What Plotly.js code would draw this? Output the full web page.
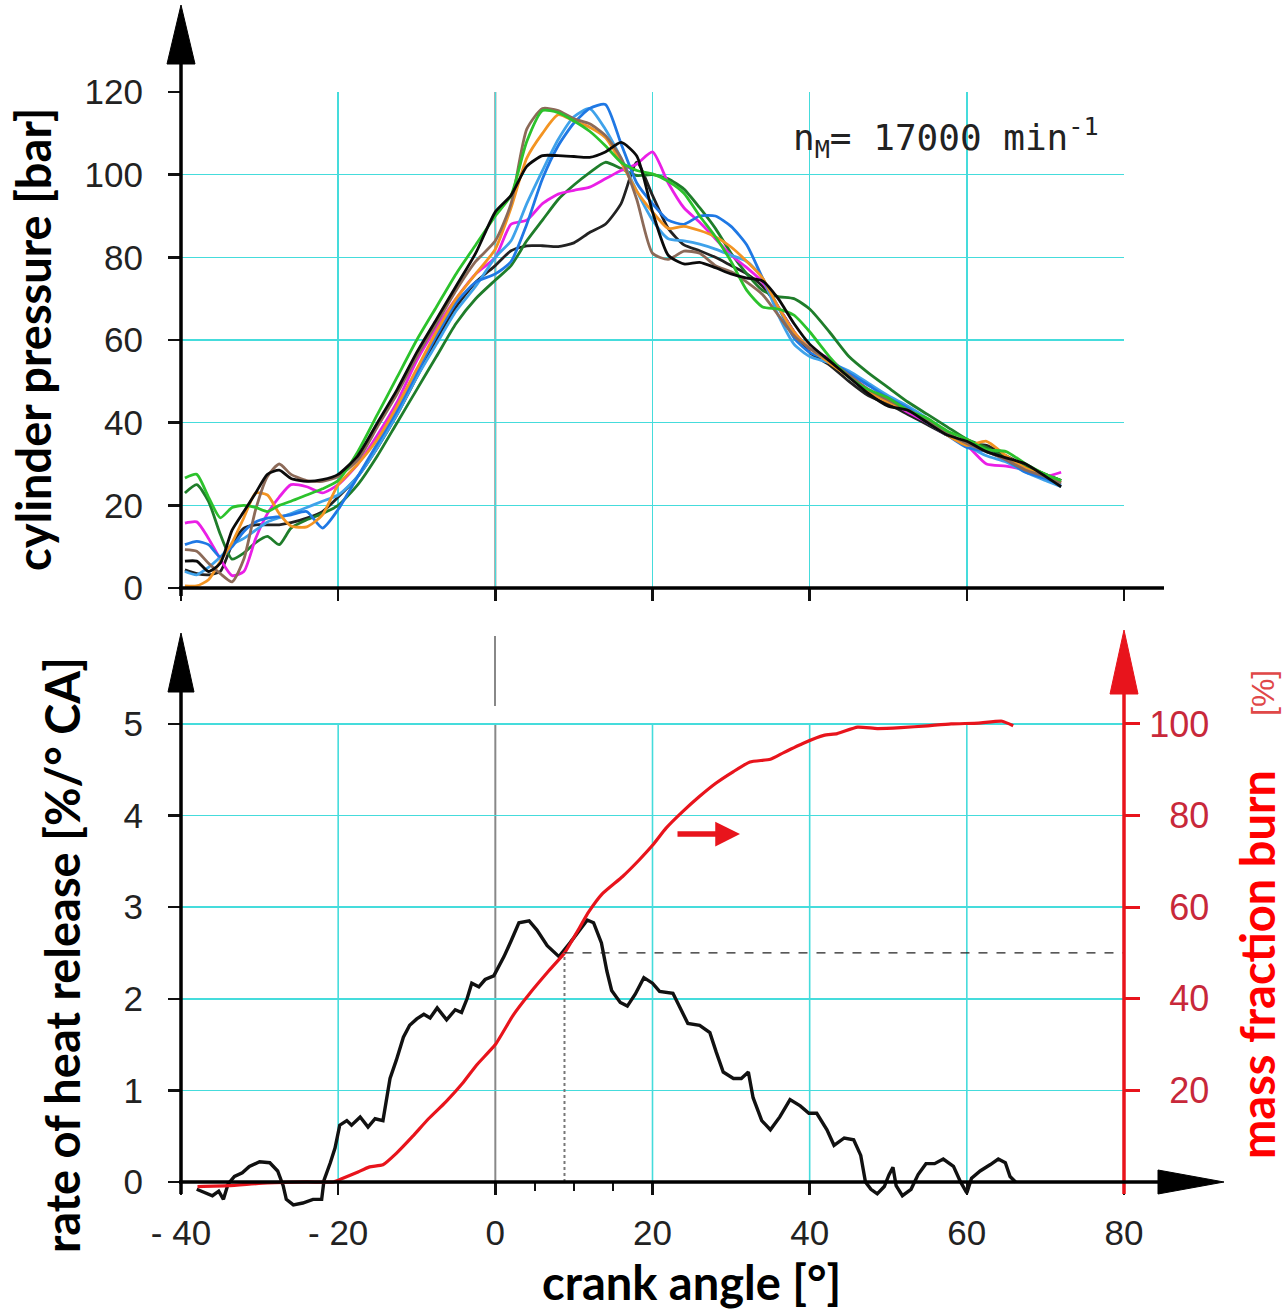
<!DOCTYPE html>
<html>
<head>
<meta charset="utf-8">
<script src="https://cdn.plot.ly/plotly-3.0.1.min.js"></script>
<style>html,body{margin:0;padding:0;background:#fff;}#chart{width:1286px;height:1311px;}</style>
</head>
<body>
<div id="chart"></div>
<script>
// ---------------- DATA ----------------
const crankAngle = [-39.5,-38,-36.5,-35,-33.5,-32,-30.5,-29,-27.5,-26,-24,-22,-20,-17.5,-15,-12.5,-10,-7.5,-5,-2.5,0,2,4,6,8,10,12,14,16,18,20,22,24,26,28,30,32,34,36,38,40,42.5,45,47.5,50,52.5,55,57.5,60,62.5,65,67.5,70,72];

const pressBlack1  = [6.5,6.5,4,6,14,18.5,23,27.5,28.5,26.5,25.8,26.2,27.5,32,40,48,57,65,73,81,91,95,102,104.6,104.6,104.4,104.2,105.5,107.8,104.5,91,80.5,78.4,78.8,77.5,76,75,74.3,70,64,59,55,51,47,44,43,40,37,35.5,33,31.5,30,27,24.5];
const pressBlack2  = [4.4,3.5,3.2,4,10.5,14.5,15.3,15.3,15.3,15.8,16.9,18.5,22,27,34,42,51,60,68,74,78,81.6,82.8,82.8,82.6,83.5,86,88,93,103,95,87,83,81.6,80,78,76,73,68,62,57,54,50,46.5,44.5,42,39.5,37,35,34.5,32,29.5,27.5,26];
const pressBrown   = [9.3,8.9,6,3.5,1.5,7,19,27,30,27.5,26,25.8,27,31,39,47,56,64,72,79,84,93,111,116,115.5,113.5,112.3,109.5,104,94,81,79.5,81.5,81,78,76.5,74,71,66,61,58,55,51.5,48,45.5,43,40.5,37.5,35,33,31,28.5,27,25.5];
const pressGreen   = [26.6,27.5,22,17,19.5,20,19.5,18.5,20,21,22.5,24,26,33,42,51,60,68,76,83,90,95,108,115.5,115,113,110.5,107,103,101,100.2,98.4,95.5,90,85,79,72,68,67.5,66,62,56,51,48,46,43,41,38,36,33.5,33,30,27.5,26];
const pressDkGreen = [23,25,21,13,7,8.5,11,12.5,10.5,14.5,16.5,18,20,25,32,40,48,56,64,70,74.5,78,84,89,94,97.5,100.5,103,101.5,99.8,100,99,96.5,92,87,81,76,72,70.5,70,67.5,62,56,52,48.5,45,42,39,36,34,31.5,29.5,27.5,26];
const pressBlue1   = [10.5,11.3,10.5,7.5,10,13.7,16,16.9,17.3,17.7,18.5,14.5,19,27,35,43,52,61,69,74,76,79,88,99,107,112.5,116,117,107.5,98,93,89,88,90,90,87.5,83,75,68,60.5,57,55,52,49,46,43.5,40,37,34,33,31,28,26.5,25];
const pressBlue2   = [4,3.2,5,7.5,10.5,12,14,16,17,18,19.5,21,22.5,27,34,42,51,59,67,73,80,84,93,101,108.5,114,116,111,104,96,89,84.5,84,83.2,82,80.5,79,75,66,59,56,54.5,52.5,49.5,46.5,44,41,37.5,34.5,32,30.5,28,26,24.5];
const pressMagenta = [15.7,16,12,7,3,4,12,18,22,25,24.5,23,25,30,37,45,55,63,70,76,80,88,89,93,95.3,96.2,97,99,101,102.6,105.5,98,92,88.5,84.5,80.5,77.5,74,68,62,58,55.5,51.5,48,45.5,42.5,40,37,34.5,30,29.5,28.5,27,28];
const pressOrange  = [0.5,0.5,2,6.5,11,17,23,22.5,18,15,14.8,17.7,25,30,36,44,53,62,70,76,82,92,104,110,114.5,113,111.5,109,103,96,91,87,87.5,86.5,85,82.5,79,75,68,62,58,54.5,51,47.5,45,43,40.5,37,34.5,35.5,32,29,27,25.5];

const hrAngle = [-38,-37,-36,-35.2,-34.6,-34,-33.2,-32.2,-31.3,-30,-28.7,-27.7,-27,-26.6,-25.7,-24.5,-23.2,-22.1,-21.8,-21,-20.4,-19.8,-18.9,-18.3,-17.2,-16.2,-15.3,-14.3,-13.4,-12.6,-11.7,-10.9,-10,-9.1,-8.3,-7.4,-6.2,-5.1,-4.3,-3.6,-3.0,-2.1,-1.3,-0.2,1.1,2.0,3.0,4.3,5.3,6.6,8.1,9.5,10.8,11.7,12.5,13.5,14.2,14.8,15.9,16.8,17.8,18.9,20,20.9,22.6,23.6,24.5,26,27.3,28.1,29,30.3,31.3,32.2,32.8,33.9,35,36.2,37.5,38.8,39.9,40.9,42.2,43.1,44.4,45.6,46.5,47.1,47.8,48.6,49.5,50.1,50.6,51,51.8,52.9,53.8,54.8,55.9,57,58.3,59.2,60,60.6,61.7,63,64,64.9,65.5,66.2];
const hrValue = [-0.08,-0.12,-0.15,-0.1,-0.19,-0.02,0.06,0.1,0.17,0.22,0.21,0.12,-0.04,-0.19,-0.25,-0.23,-0.19,-0.19,0.02,0.21,0.37,0.62,0.67,0.62,0.71,0.6,0.69,0.67,1.13,1.33,1.58,1.71,1.78,1.83,1.79,1.9,1.77,1.88,1.85,2.0,2.17,2.13,2.21,2.25,2.46,2.63,2.83,2.85,2.75,2.58,2.46,2.61,2.76,2.86,2.83,2.61,2.3,2.09,1.96,1.92,2.05,2.23,2.17,2.08,2.06,1.88,1.73,1.71,1.63,1.42,1.2,1.13,1.13,1.2,0.92,0.67,0.57,0.71,0.9,0.83,0.75,0.75,0.57,0.4,0.48,0.46,0.29,0,-0.08,-0.13,-0.05,0.08,0.16,-0.04,-0.15,-0.08,0.08,0.2,0.2,0.25,0.17,0,-0.12,0.04,0.12,0.19,0.25,0.21,0.06,0];

const mfbAngle = [-37.9,-34,-29,-24,-20.6,-19.4,-17.7,-16,-14.3,-12.6,-10.5,-8.5,-6.3,-4.2,-2.4,0,2.3,4.3,6.75,8.8,10.3,11.9,13.6,16.2,18.3,20,21.7,23.8,26,28.1,30.3,32.4,35,36.7,39.2,41.8,43.5,46.1,48.6,51.6,55,58,61.5,64.5,65.9];
const mfbValue = [-1,-0.8,-0.2,0,0,0.8,2,3.3,3.75,6.25,10,13.8,17.5,21.5,25.5,30,36.5,41,46,50,54.3,59,62.9,66.7,70.3,73.5,77.2,80.8,84.2,87.1,89.6,91.7,92.3,93.75,95.8,97.5,97.9,99.3,99,99.2,99.6,100,100.2,100.6,99.6];

const mfb50Angle = 8.8;
const mfb50Level = 50;

const xTicks = [-40,-20,0,20,40,60,80];
const xTickText = ['- 40','- 20','0','20','40','60','80'];
const xGridBottom = [-20,20,40,60];
const xMinorTicks = [5,10,15];
const pressTicks = [0,20,40,60,80,100,120];
const hrTicks = [0,1,2,3,4,5];
const mfbTicks = [20,40,60,80,100];
const NB = '\u00a0';
const mfbTickText = [NB+NB+'20',NB+NB+'40',NB+NB+'60',NB+NB+'80','100'];

// ---------------- STYLE ----------------
const W = 1286, H = 1311;
const px = x => x / W;
const py = y => (H - y) / H;
const CYAN = '#45dcdc';
const RED = '#e8141c';
const TICKFONT = {family: 'Liberation Sans, Arial, sans-serif', size: 35, color: '#222'};
const TITLEFONT = {family: 'Lato, Open Sans, sans-serif', size: 47, color: '#000', weight: 'bold'};

const pressSeries = [
  {y: pressBlack2, c: '#222222'},
  {y: pressDkGreen, c: '#1f7d2a'},
  {y: pressMagenta, c: '#ea1fe6'},
  {y: pressBlue2, c: '#3fa2ea'},
  {y: pressBlue1, c: '#1f78e4'},
  {y: pressOrange, c: '#f39422'},
  {y: pressBrown, c: '#8c6a58'},
  {y: pressGreen, c: '#2cc22c'},
  {y: pressBlack1, c: '#0a0a0a'}
];

const traces = pressSeries.map(s => ({
  x: crankAngle, y: s.y, xaxis: 'x', yaxis: 'y', mode: 'lines',
  line: {color: s.c, width: 2.8, shape: 'spline', smoothing: 0.6},
  hoverinfo: 'skip'
}));
traces.push({x: hrAngle, y: hrValue, xaxis: 'x2', yaxis: 'y2', mode: 'lines',
  line: {color: '#111', width: 3.4}, hoverinfo: 'skip'});
traces.push({x: mfbAngle, y: mfbValue, xaxis: 'x2', yaxis: 'y3', mode: 'lines',
  line: {color: RED, width: 3.2, shape: 'spline', smoothing: 0.5}, hoverinfo: 'skip'});

const axisLine = (x0, y0, x1, y1, c, w) => ({type: 'line', xref: 'paper', yref: 'paper',
  x0: px(x0), y0: py(y0), x1: px(x1), y1: py(y1), line: {color: c, width: w}, layer: 'above'});
const tri = (pts, c) => ({type: 'path', xref: 'paper', yref: 'paper', layer: 'above',
  path: 'M ' + pts.map(p => px(p[0]) + ',' + py(p[1])).join(' L ') + ' Z',
  fillcolor: c, line: {color: c, width: 1}});

const shapes = [
  // vertical grid lines of the lower panel (stop at the 5 line)
  ...xGridBottom.map(v => ({type: 'line', xref: 'x2', yref: 'y2', x0: v, x1: v, y0: 0, y1: 5,
    line: {color: CYAN, width: 1.6}, layer: 'below'})),
  // zero crank-angle reference lines (gray)
  {type: 'line', xref: 'x', yref: 'y', x0: 0, x1: 0, y0: 0, y1: 120, line: {color: '#888', width: 2}, layer: 'below'},
  {type: 'line', xref: 'x2', yref: 'y2', x0: 0, x1: 0, y0: 0, y1: 5, line: {color: '#888', width: 2}, layer: 'below'},
  {type: 'line', xref: 'paper', yref: 'paper', x0: px(495), x1: px(495), y0: py(706), y1: py(636), line: {color: '#888', width: 2}, layer: 'above'},
  // 50 % burn markers
  {type: 'line', xref: 'x2', yref: 'y3', x0: mfb50Angle, x1: 80, y0: mfb50Level, y1: mfb50Level, line: {color: '#222', width: 1.3, dash: 'dash'}, layer: 'above'},
  {type: 'line', xref: 'x2', yref: 'y3', x0: mfb50Angle, x1: mfb50Angle, y0: 0, y1: mfb50Level, line: {color: '#777', width: 2, dash: 'dot'}, layer: 'above'},
  // axes lines
  axisLine(181, 596, 181, 60, '#000', 3.5),
  axisLine(179, 588, 1164, 588, '#000', 3.5),
  tri([[167, 64], [181, 5], [195, 64]], '#000'),
  axisLine(181, 1194, 181, 688, '#000', 3.5),
  tri([[168, 692], [181, 633], [194, 692]], '#000'),
  axisLine(1124, 1194, 1124, 690, RED, 3.5),
  tri([[1110, 694], [1124, 630], [1138, 694]], RED),
  axisLine(179, 1182, 1162, 1182, '#000', 3.5),
  tri([[1158, 1170], [1224, 1182], [1158, 1194]], '#000')
];

const annotations = [
  {xref: 'paper', yref: 'paper', x: px(33), y: py(340), text: 'cylinder pressure [bar]', textangle: -90,
   showarrow: false, xanchor: 'center', yanchor: 'middle', font: TITLEFONT},
  {xref: 'paper', yref: 'paper', x: px(62), y: py(955), text: 'rate of heat release [%/° CA]', textangle: -90,
   showarrow: false, xanchor: 'center', yanchor: 'middle', font: TITLEFONT},
  {xref: 'paper', yref: 'paper', x: px(691), y: py(1282), text: 'crank angle [°]',
   showarrow: false, xanchor: 'center', yanchor: 'middle', font: TITLEFONT},
  {xref: 'paper', yref: 'paper', x: px(1257), y: py(965), text: 'mass fraction burn', textangle: -90,
   showarrow: false, xanchor: 'center', yanchor: 'middle', font: Object.assign({}, TITLEFONT, {color: '#ff0000'})},
  {xref: 'paper', yref: 'paper', x: px(1263), y: py(693), text: '[%]', textangle: -90,
   showarrow: false, xanchor: 'center', yanchor: 'middle', font: {family: 'Liberation Sans, Arial, sans-serif', size: 32, color: '#e04848'}},
  {xref: 'paper', yref: 'paper', x: px(791), y: py(138), text: 'n<sub>M</sub>= 17000 min<sup>-1</sup>',
   showarrow: false, xanchor: 'left', yanchor: 'middle', font: {family: 'DejaVu Sans Mono, monospace', size: 36, color: '#222'}},
  {xref: 'paper', yref: 'paper', x: px(740), y: py(834), ax: -64, ay: 0, text: '',
   showarrow: true, arrowhead: 2, arrowsize: 0.9, arrowwidth: 5.5, arrowcolor: RED}
];

const layout = {
  width: W, height: H,
  margin: {l: 0, r: 0, t: 0, b: 0},
  paper_bgcolor: '#ffffff', plot_bgcolor: 'rgba(0,0,0,0)',
  showlegend: false,
  xaxis: {domain: [px(181), px(1124)], range: [-40, 80], anchor: 'free', position: py(588),
    tickmode: 'array', tickvals: xTicks, showticklabels: false,
    ticks: 'outside', ticklen: 12, tickwidth: 2.5, tickcolor: '#111',
    showgrid: true, gridcolor: CYAN, gridwidth: 1.6, zeroline: false, showline: false},
  yaxis: {domain: [py(596.3), py(92)], range: [-2, 120], anchor: 'x',
    tickmode: 'array', tickvals: pressTicks, tickfont: TICKFONT, ticklabelstandoff: 18,
    ticks: 'outside', ticklen: 12, tickwidth: 2.5, tickcolor: '#111',
    showgrid: true, gridcolor: CYAN, gridwidth: 1.6, zeroline: false, showline: false},
  xaxis2: {domain: [px(181), px(1124)], range: [-40, 80], anchor: 'free', position: py(1182),
    tickmode: 'array', tickvals: xTicks, ticktext: xTickText, tickfont: TICKFONT, ticklabelstandoff: 8,
    ticks: 'outside', ticklen: 12, tickwidth: 2.5, tickcolor: '#111',
    minor: {tickmode: 'array', tickvals: xMinorTicks, ticks: 'outside', ticklen: 8, tickwidth: 2, tickcolor: '#111', showgrid: false},
    showgrid: false, zeroline: false, showline: false},
  yaxis2: {domain: [py(1218.6), py(714.8)], range: [-0.4, 5.1], anchor: 'x2',
    tickmode: 'array', tickvals: hrTicks, tickfont: TICKFONT, ticklabelstandoff: 18,
    ticks: 'outside', ticklen: 12, tickwidth: 2.5, tickcolor: '#111',
    showgrid: true, gridcolor: CYAN, gridwidth: 1.6, zeroline: false, showline: false},
  yaxis3: {overlaying: 'y2', side: 'right', anchor: 'x2', range: [-8, 102],
    tickmode: 'array', tickvals: mfbTicks, ticktext: mfbTickText,
    tickfont: {family: 'Liberation Sans, Arial, sans-serif', size: 36, color: '#c8283a'}, ticklabelstandoff: 2,
    ticks: 'outside', ticklen: 15, tickwidth: 3, tickcolor: RED,
    showgrid: false, zeroline: false, showline: false},
  shapes: shapes,
  annotations: annotations
};

Plotly.newPlot('chart', traces, layout, {displayModeBar: false, staticPlot: true});
</script>
</body>
</html>
